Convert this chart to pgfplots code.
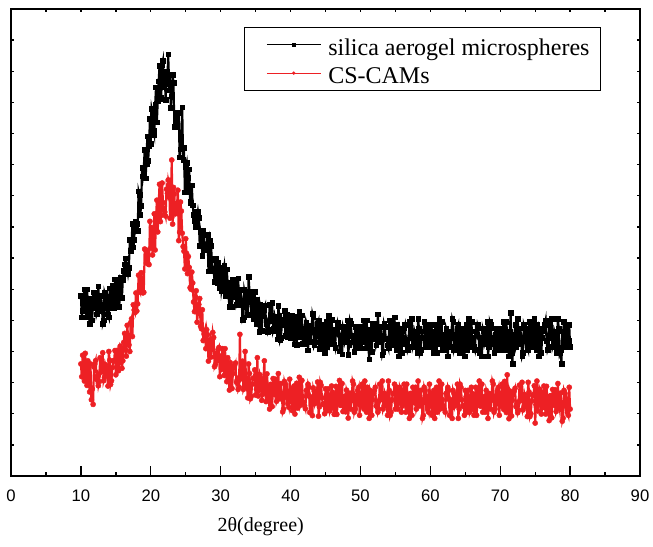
\documentclass[border=0pt]{standalone}
\usepackage{fontspec}
\setmainfont{Liberation Serif}
\setsansfont{Liberation Sans}
\usepackage{pgfplots}
\pgfplotsset{compat=1.18}
\definecolor{myred}{RGB}{237,32,36}
\begin{document}
\begin{tikzpicture}
\begin{axis}[
  scale only axis, width=471.75pt, height=350.25pt,
  xmin=0, xmax=90, ymin=0, ymax=15,
  xtick={0,10,...,90}, minor x tick num=1,
  xtick pos=left, ytick=\empty,
  tick align=inside,
  major tick length=7.5pt, minor tick length=3pt,
  axis line style={line width=1.1pt},
  every tick/.style={black, line width=1pt},
  /pgf/number format/assume math mode=true,
  xticklabel style={font=\fontsize{12.5}{14}\selectfont\sffamily, anchor=base, yshift=-19.3pt},
  xlabel={2θ(degree)},
  xlabel style={font=\fontsize{15}{18}\selectfont, at={(axis description cs:0.397,0)}, anchor=base, yshift=-41.8pt},
  legend style={at={(axis description cs:0.938,0.9615)}, anchor=north east, draw=black, line width=0.75pt,
    font=\fontsize{18}{21}\selectfont, inner xsep=8.25pt, inner ysep=4pt, row sep=3.2pt,
    nodes={inner sep=0pt, text height=17pt, text depth=1pt},
    /tikz/every odd column/.append style={column sep=5.25pt}},
  legend cell align=left,
  legend image code/.code={\path[draw=none,fill=none] (0pt,0pt) -- (8.25pt,0pt);
    \draw[mark repeat=2,mark phase=2,#1,line width=0.7pt,mark size=1.1pt] plot coordinates {(8.25pt,0pt) (28.5pt,0pt) (48.75pt,0pt)};},
]
\addplot[black, line width=1.6pt, mark=square*, mark size=1.75pt, mark options={line width=0.3pt}] coordinates {
(10,5.8)(10.125,5.1)(10.25,5.3)(10.375,5.8)(10.5,6.0)(10.625,5.4)(10.75,5.1)(10.875,6.0)
(11,5.6)(11.125,5.2)(11.25,4.9)(11.375,5.7)(11.5,5.7)(11.625,5.0)(11.75,5.9)(11.875,5.6)
(12,5.4)(12.125,5.9)(12.25,5.2)(12.375,5.3)(12.5,6.1)(12.625,5.5)(12.75,5.3)(12.875,5.8)
(13,5.5)(13.125,4.9)(13.25,5.0)(13.375,5.9)(13.5,5.8)(13.625,5.4)(13.75,5.6)(13.875,5.2)
(14,5.1)(14.125,6.03)(14.25,5.76)(14.375,5.39)(14.5,6.13)(14.625,5.76)(14.75,5.39)(14.875,6.32)
(15,5.65)(15.125,5.42)(15.25,6.29)(15.375,5.76)(15.5,5.43)(15.625,6.39)(15.75,6.36)(15.875,5.73)
(16,6.3)(16.125,6.6)(16.25,6.8)(16.375,7.0)(16.5,6.5)(16.625,6.7)(16.75,6.5)(16.875,6.7)
(17,7.6)(17.125,7.24)(17.25,7.48)(17.375,8.11)(17.5,7.35)(17.625,7.59)(17.75,8.13)(17.875,8.16)
(18,8.1)(18.125,7.88)(18.25,9.15)(18.375,9.03)(18.5,8.4)(18.625,8.68)(18.75,9.9)(18.875,9.63)
(19,9.88)(19.125,10.49)(19.25,9.56)(19.375,10.02)(19.5,10.91)(19.625,10.12)(19.75,10.59)(19.875,11.47)
(20,10.68)(20.125,11.8)(20.25,11.66)(20.375,11.09)(20.5,10.95)(20.625,11.93)(20.75,12.49)(20.875,11.36)
(21,12.06)(21.125,12.68)(21.25,13.17)(21.375,12.11)(21.5,12.17)(21.625,13.21)(21.75,13.35)(21.875,12.5)
(22,12.84)(22.125,12.08)(22.25,13.0)(22.375,12.79)(22.5,13.55)(22.625,12.39)(22.75,12.61)(22.875,11.84)
(23,12.2)(23.125,12.9)(23.25,12.63)(23.375,11.23)(23.5,11.23)(23.625,11.65)(23.75,11.24)(23.875,11.66)
(24,11.66)(24.125,10.24)(24.25,10.5)(24.375,10.89)(24.5,11.85)(24.625,10.15)(24.75,10.55)(24.875,9.12)
(25,9.94)(25.125,10.06)(25.25,9.13)(25.375,9.59)(25.5,9.85)(25.625,8.81)(25.75,8.78)(25.875,9.34)
(26,8.7)(26.125,8.4)(26.25,8.2)(26.375,8.0)(26.5,8.5)(26.625,8.3)(26.75,8.5)(26.875,8.3)
(27,7.4)(27.125,7.83)(27.25,7.65)(27.375,7.08)(27.5,7.9)(27.625,7.73)(27.75,7.25)(27.875,7.28)
(28,7.4)(28.125,7.74)(28.25,6.58)(28.375,6.81)(28.5,7.55)(28.625,7.39)(28.75,6.93)(28.875,6.66)
(29,6.6)(29.125,6.25)(29.25,7.0)(29.375,6.75)(29.5,6.2)(29.625,6.85)(29.75,6.6)(29.875,6.05)
(30,6.7)(30.125,5.96)(30.25,6.13)(30.375,6.59)(30.5,6.75)(30.625,6.11)(30.75,5.78)(30.875,6.64)
(31,6.2)(31.125,5.77)(31.25,5.44)(31.375,6.21)(31.5,6.18)(31.625,5.44)(31.75,6.31)(31.875,5.98)
(32,5.75)(32.125,6.23)(32.25,5.5)(32.375,5.58)(32.5,6.35)(32.625,5.73)(32.75,5.5)(32.875,5.98)
(33,5.65)(33.125,5.03)(33.25,5.1)(33.375,5.98)(33.5,5.85)(33.625,5.43)(33.75,5.6)(33.875,5.18)
(34,6.4)(34.125,5.93)(34.25,5.61)(34.375,5.19)(34.5,5.88)(34.625,5.46)(34.75,5.04)(34.875,5.92)
(35,5.2)(35.125,4.88)(35.25,5.66)(35.375,5.04)(35.5,4.63)(35.625,5.51)(35.75,5.39)(35.875,4.67)
(36,5.15)(36.125,5.33)(36.25,5.41)(36.375,5.49)(36.5,4.88)(36.625,4.96)(36.75,4.64)(36.875,4.72)
(37,5.5)(37.125,4.99)(37.25,5.08)(37.375,5.56)(37.5,4.65)(37.625,4.74)(37.75,5.13)(37.875,5.01)
(38,4.8)(38.125,4.39)(38.25,5.48)(38.375,5.17)(38.5,4.36)(38.625,4.45)(38.75,4.84)(38.875,5.03)
(39,5.02)(39.125,5.31)(39.25,4.5)(39.375,4.69)(39.5,5.19)(39.625,4.48)(39.75,4.67)(39.875,5.16)
(40,4.45)(40.125,5.14)(40.25,4.94)(40.375,4.43)(40.5,4.23)(40.625,4.82)(40.75,5.11)(40.875,4.21)
(41,4.6)(41.125,4.99)(41.25,5.29)(41.375,4.48)(41.5,4.48)(41.625,5.17)(41.75,4.26)(41.875,4.56)
(42,4.75)(42.125,4.25)(42.25,4.94)(42.375,4.84)(42.5,4.04)(42.625,4.63)(42.75,4.83)(42.875,4.32)
(43,4.62)(43.125,5.22)(43.25,5.11)(43.375,4.21)(43.5,4.3)(43.625,4.7)(43.75,4.49)(43.875,4.89)
(44,4.98)(44.125,4.08)(44.25,4.37)(44.375,4.77)(44.5,4.07)(44.625,4.46)(44.75,4.86)(44.875,3.95)
(45,4.65)(45.125,4.95)(45.25,4.15)(45.375,4.74)(45.5,5.14)(45.625,4.24)(45.75,4.34)(45.875,5.03)
(46,4.53)(46.125,4.33)(46.25,4.23)(46.375,4.12)(46.5,4.72)(46.625,4.62)(46.75,4.92)(46.875,4.81)
(47,4.01)(47.125,4.51)(47.25,4.41)(47.375,3.91)(47.5,4.8)(47.625,4.7)(47.75,4.3)(47.875,4.4)
(48,4.6)(48.125,5.0)(48.25,3.9)(48.375,4.2)(48.5,5.0)(48.625,4.9)(48.75,4.5)(48.875,4.3)
(49,4.3)(49.125,4.0)(49.25,4.8)(49.375,4.6)(49.5,4.1)(49.625,4.8)(49.75,4.6)(49.875,4.1)
(50,4.8)(50.125,4.1)(50.25,4.3)(50.375,4.8)(50.5,5.0)(50.625,4.4)(50.75,4.1)(50.875,5.0)
(51,4.6)(51.125,4.2)(51.25,3.75)(51.375,4.7)(51.5,4.7)(51.625,4.0)(51.75,4.9)(51.875,4.6)
(52,4.4)(52.125,4.9)(52.25,4.2)(52.375,4.3)(52.5,5.2)(52.625,4.5)(52.75,4.3)(52.875,4.8)
(53,4.5)(53.125,3.9)(53.25,4.0)(53.375,4.9)(53.5,4.8)(53.625,4.4)(53.75,4.4)(53.875,4.2)
(54,4.1)(54.125,5.0)(54.25,4.7)(54.375,4.3)(54.5,5.0)(54.625,4.6)(54.75,4.2)(54.875,5.1)
(55,4.35)(55.125,4.05)(55.25,4.85)(55.375,4.25)(55.5,3.85)(55.625,4.75)(55.75,4.65)(55.875,3.95)
(56,4.45)(56.125,4.65)(56.25,4.75)(56.375,4.85)(56.5,4.25)(56.625,4.35)(56.75,4.05)(56.875,4.15)
(57,4.95)(57.125,4.45)(57.25,4.55)(57.375,5.05)(57.5,4.15)(57.625,4.25)(57.75,4.65)(57.875,4.55)
(58,4.35)(58.125,3.95)(58.25,5.05)(58.375,4.75)(58.5,3.95)(58.625,4.05)(58.75,4.45)(58.875,4.65)
(59,4.65)(59.125,4.95)(59.25,4.15)(59.375,4.35)(59.5,4.85)(59.625,4.15)(59.75,4.35)(59.875,4.85)
(60,4.15)(60.125,4.85)(60.25,4.65)(60.375,4.15)(60.5,3.95)(60.625,4.55)(60.75,4.85)(60.875,3.95)
(61,4.35)(61.125,4.75)(61.25,5.05)(61.375,4.25)(61.5,4.25)(61.625,4.95)(61.75,4.05)(61.875,4.35)
(62,4.55)(62.125,4.05)(62.25,4.75)(62.375,4.65)(62.5,3.85)(62.625,4.45)(62.75,4.65)(62.875,4.15)
(63,4.45)(63.125,5.05)(63.25,4.95)(63.375,4.05)(63.5,4.15)(63.625,4.55)(63.75,4.35)(63.875,4.75)
(64,4.85)(64.125,3.95)(64.25,4.25)(64.375,4.65)(64.5,3.95)(64.625,4.35)(64.75,4.75)(64.875,3.85)
(65,4.55)(65.125,4.85)(65.25,4.05)(65.375,4.65)(65.5,5.05)(65.625,4.15)(65.75,4.25)(65.875,4.95)
(66,4.45)(66.125,4.25)(66.25,4.15)(66.375,4.05)(66.5,4.65)(66.625,4.55)(66.75,4.85)(66.875,4.75)
(67,3.95)(67.125,4.45)(67.25,4.35)(67.375,3.85)(67.5,4.75)(67.625,4.65)(67.75,4.25)(67.875,4.35)
(68,4.55)(68.125,4.95)(68.25,3.85)(68.375,4.15)(68.5,4.95)(68.625,4.85)(68.75,4.45)(68.875,4.25)
(69,4.25)(69.125,3.95)(69.25,4.75)(69.375,4.55)(69.5,4.05)(69.625,4.75)(69.75,4.55)(69.875,4.05)
(70,4.75)(70.125,4.05)(70.25,4.25)(70.375,4.75)(70.5,4.95)(70.625,4.35)(70.75,4.05)(70.875,4.95)
(71,4.55)(71.125,4.15)(71.25,3.85)(71.375,4.65)(71.5,5.25)(71.625,3.95)(71.75,3.6)(71.875,4.55)
(72,4.35)(72.125,4.85)(72.25,4.15)(72.375,4.25)(72.5,5.05)(72.625,4.45)(72.75,4.25)(72.875,4.75)
(73,4.45)(73.125,3.85)(73.25,3.95)(73.375,4.85)(73.5,4.75)(73.625,4.35)(73.75,4.55)(73.875,4.15)
(74,4.05)(74.125,4.95)(74.25,4.65)(74.375,4.25)(74.5,4.95)(74.625,4.55)(74.75,4.15)(74.875,5.05)
(75,4.35)(75.125,4.05)(75.25,4.85)(75.375,4.25)(75.5,3.85)(75.625,4.75)(75.75,4.65)(75.875,3.95)
(76,4.45)(76.125,4.65)(76.25,4.75)(76.375,4.85)(76.5,5.0)(76.625,4.35)(76.75,4.05)(76.875,4.15)
(77,4.95)(77.125,4.45)(77.25,4.55)(77.375,5.05)(77.5,4.15)(77.625,4.25)(77.75,4.65)(77.875,4.55)
(78,4.35)(78.125,3.95)(78.25,5.05)(78.375,4.75)(78.5,3.95)(78.625,4.05)(78.75,3.6)(78.875,4.65)
(79,4.65)(79.125,4.95)(79.25,4.15)(79.375,4.35)(79.5,4.85)(79.625,4.15)(79.75,4.35)(79.875,4.85)(80,4.15)
};
\addlegendentry{silica aerogel microspheres}
\addplot[myred, line width=1.6pt, mark=*, mark size=1.95pt, mark options={line width=0.3pt}] coordinates {
(10,3.6)(10.125,3.19)(10.25,3.88)(10.375,3.46)(10.5,3.05)(10.625,3.94)(10.75,3.23)(10.875,2.91)
(11,3.7)(11.125,3.1)(11.25,2.7)(11.375,3.6)(11.5,2.45)(11.625,2.8)(11.75,2.3)(11.875,3.5)
(12,3.6)(12.125,3.71)(12.25,3.1)(12.375,3.22)(12.5,2.9)(12.625,3.03)(12.75,3.8)(12.875,3.34)
(13,3.45)(13.125,3.96)(13.25,3.06)(13.375,3.17)(13.5,3.58)(13.625,3.48)(13.75,3.29)(13.875,2.89)
(14,4.0)(14.125,3.72)(14.25,2.94)(14.375,3.06)(14.5,3.48)(14.625,3.69)(14.75,3.71)(14.875,4.03)
(15,3.25)(15.125,3.49)(15.25,4.04)(15.375,3.38)(15.5,3.63)(15.625,4.17)(15.75,4.11)(15.875,3.46)
(16,3.7)(16.125,4.29)(16.25,4.58)(16.375,4.06)(16.5,3.85)(16.625,4.84)(16.75,4.53)(16.875,4.21)
(17,4.0)(17.125,4.93)(17.25,5.05)(17.375,4.48)(17.5,5.5)(17.625,5.33)(17.75,5.25)(17.875,5.88)
(18,5.3)(18.125,5.53)(18.25,6.45)(18.375,5.98)(18.5,5.9)(18.625,6.53)(18.75,6.35)(18.875,5.88)
(19,5.9)(19.125,7.29)(19.25,7.27)(19.375,6.84)(19.5,7.24)(19.625,6.81)(19.75,6.79)(19.875,8.18)
(20,7.32)(20.125,7.98)(20.25,7.1)(20.375,7.76)(20.5,8.42)(20.625,7.26)(20.75,8.34)(20.875,8.86)
(21,7.84)(21.125,8.74)(21.25,9.37)(21.375,8.17)(21.5,8.37)(21.625,9.41)(21.75,8.78)(21.875,8.56)
(22,8.48)(22.125,8.35)(22.25,9.21)(22.375,9.08)(22.5,9.51)(22.625,9.38)(22.75,8.28)(22.875,8.99)
(23,10.15)(23.125,8.09)(23.25,9.27)(23.375,9.06)(23.5,8.42)(23.625,8.49)(23.75,8.69)(23.875,9.18)
(24,7.56)(24.125,7.83)(24.25,8.8)(24.375,8.51)(24.5,7.8)(24.625,7.37)(24.75,7.22)(24.875,6.65)
(25,7.62)(25.125,7.15)(25.25,6.5)(25.375,7.05)(25.5,6.7)(25.625,6.05)(25.75,6.0)(25.875,6.55)
(26,6.2)(26.125,5.59)(26.25,5.28)(26.375,5.76)(26.5,5.95)(26.625,4.94)(26.75,5.23)(26.875,5.51)
(27,5.7)(27.125,4.81)(27.25,4.73)(27.375,5.34)(27.5,4.35)(27.625,4.56)(27.75,4.68)(27.875,4.09)
(28,4.7)(28.125,4.54)(28.25,3.69)(28.375,4.23)(28.5,4.38)(28.625,3.82)(28.75,4.06)(28.875,4.61)
(29,4.45)(29.125,3.51)(29.25,3.58)(29.375,3.94)(29.5,3.7)(29.625,4.06)(29.75,4.13)(29.875,3.19)
(30,3.85)(30.125,3.42)(30.25,4.09)(30.375,3.66)(30.5,3.23)(30.625,4.09)(30.75,3.36)(30.875,3.03)
(31,3.8)(31.125,3.18)(31.25,2.76)(31.375,3.64)(31.5,3.53)(31.625,2.81)(31.75,3.29)(31.875,3.47)
(32,3.55)(32.125,3.63)(32.25,3.01)(32.375,3.09)(32.5,2.78)(32.625,2.86)(32.75,4.55)(32.875,3.12)
(33,3.2)(33.125,3.69)(33.25,2.78)(33.375,2.86)(33.5,4.0)(33.625,3.14)(33.75,2.93)(33.875,2.51)
(34,3.6)(34.125,3.29)(34.25,2.48)(34.375,2.56)(34.5,2.95)(34.625,3.14)(34.75,3.13)(34.875,3.41)
(35,2.6)(35.125,2.79)(35.25,3.8)(35.375,2.57)(35.5,2.76)(35.625,3.25)(35.75,3.14)(35.875,2.43)
(36,2.62)(36.125,3.11)(36.25,3.7)(36.375,2.69)(36.5,2.39)(36.625,3.28)(36.75,2.87)(36.875,2.46)
(37,2.15)(37.125,2.94)(37.25,2.94)(37.375,2.23)(37.5,3.13)(37.625,2.82)(37.75,2.61)(37.875,3.11)
(38,2.4)(38.125,2.49)(38.25,3.29)(38.375,2.68)(38.5,2.48)(38.625,2.97)(38.75,2.66)(38.875,2.06)
(39,2.15)(39.125,3.04)(39.25,2.94)(39.375,2.53)(39.5,2.73)(39.625,2.32)(39.75,2.21)(39.875,3.11)
(40,2.4)(40.125,2.8)(40.25,2.1)(40.375,2.49)(40.5,2.89)(40.625,1.99)(40.75,2.69)(40.875,2.98)
(41,2.18)(41.125,2.78)(41.25,3.17)(41.375,2.27)(41.5,2.37)(41.625,3.07)(41.75,2.56)(41.875,2.36)
(42,2.26)(42.125,2.16)(42.25,2.75)(42.375,2.65)(42.5,2.95)(42.625,2.85)(42.75,2.04)(42.875,2.54)
(43,2.44)(43.125,1.94)(43.25,2.83)(43.375,2.73)(43.5,2.33)(43.625,2.43)(43.75,2.62)(43.875,3.02)
(44,1.92)(44.125,2.22)(44.25,3.01)(44.375,2.91)(44.5,2.51)(44.625,2.31)(44.75,2.3)(44.875,2.0)
(45,2.8)(45.125,2.6)(45.25,2.1)(45.375,2.8)(45.5,2.59)(45.625,2.09)(45.75,2.19)(45.875,2.89)
(46,2.69)(46.125,2.19)(46.25,1.98)(46.375,2.58)(46.5,2.88)(46.625,1.98)(46.75,2.38)(46.875,2.77)
(47,3.07)(47.125,2.27)(47.25,2.27)(47.375,2.97)(47.5,2.07)(47.625,2.36)(47.75,2.56)(47.875,2.06)
(48,2.76)(48.125,2.66)(48.25,1.86)(48.375,2.46)(48.5,2.66)(48.625,2.15)(48.75,2.45)(48.875,3.05)
(49,2.95)(49.125,2.05)(49.25,2.15)(49.375,2.55)(49.5,2.35)(49.625,2.75)(49.75,2.85)(49.875,1.95)
(50,2.65)(50.125,2.25)(50.25,2.95)(50.375,2.55)(50.5,2.15)(50.625,3.05)(50.75,2.35)(50.875,2.05)
(51,2.85)(51.125,2.25)(51.25,1.85)(51.375,2.75)(51.5,2.65)(51.625,1.95)(51.75,2.45)(51.875,2.65)
(52,2.75)(52.125,2.85)(52.25,2.25)(52.375,2.35)(52.5,2.05)(52.625,2.15)(52.75,2.95)(52.875,2.45)
(53,2.55)(53.125,3.05)(53.25,2.15)(53.375,2.25)(53.5,2.65)(53.625,2.55)(53.75,2.35)(53.875,1.95)
(54,3.05)(54.125,2.75)(54.25,1.95)(54.375,2.05)(54.5,2.45)(54.625,2.65)(54.75,2.65)(54.875,2.95)
(55,2.15)(55.125,2.35)(55.25,2.85)(55.375,2.15)(55.5,2.35)(55.625,2.85)(55.75,2.75)(55.875,2.05)
(56,2.25)(56.125,2.75)(56.25,2.95)(56.375,2.35)(56.5,2.05)(56.625,2.95)(56.75,2.55)(56.875,2.15)
(57,1.85)(57.125,2.65)(57.25,2.65)(57.375,1.95)(57.5,2.85)(57.625,2.55)(57.75,2.35)(57.875,2.85)
(58,2.15)(58.125,2.25)(58.25,3.05)(58.375,2.45)(58.5,2.25)(58.625,2.75)(58.75,2.45)(58.875,1.85)
(59,1.95)(59.125,2.85)(59.25,2.75)(59.375,2.35)(59.5,2.55)(59.625,2.15)(59.75,2.05)(59.875,2.95)
(60,2.25)(60.125,2.65)(60.25,1.95)(60.375,2.35)(60.5,2.75)(60.625,1.85)(60.75,2.55)(60.875,2.85)
(61,2.05)(61.125,2.65)(61.25,3.05)(61.375,2.15)(61.5,2.25)(61.625,2.95)(61.75,2.45)(61.875,2.25)
(62,2.15)(62.125,2.05)(62.25,2.65)(62.375,2.55)(62.5,2.85)(62.625,2.75)(62.75,1.95)(62.875,2.45)
(63,2.35)(63.125,1.85)(63.25,2.75)(63.375,2.65)(63.5,2.25)(63.625,2.35)(63.75,2.55)(63.875,2.95)
(64,1.85)(64.125,2.15)(64.25,2.95)(64.375,2.85)(64.5,2.45)(64.625,2.25)(64.75,2.25)(64.875,1.95)
(65,2.75)(65.125,2.55)(65.25,2.05)(65.375,2.75)(65.5,2.55)(65.625,2.05)(65.75,2.15)(65.875,2.85)
(66,2.65)(66.125,2.15)(66.25,1.95)(66.375,2.55)(66.5,2.85)(66.625,1.95)(66.75,2.35)(66.875,2.75)
(67,3.05)(67.125,2.25)(67.25,2.25)(67.375,2.95)(67.5,2.05)(67.625,2.35)(67.75,2.55)(67.875,2.05)
(68,2.75)(68.125,2.65)(68.25,1.85)(68.375,2.45)(68.5,2.65)(68.625,2.15)(68.75,2.45)(68.875,3.05)
(69,2.95)(69.125,2.05)(69.25,2.15)(69.375,2.55)(69.5,2.35)(69.625,2.75)(69.75,2.85)(69.875,1.95)
(70,2.65)(70.125,2.24)(70.25,2.95)(70.375,2.54)(70.5,2.14)(70.625,3.04)(70.75,2.34)(70.875,2.04)
(71,3.25)(71.125,2.23)(71.25,1.84)(71.375,2.73)(71.5,2.64)(71.625,1.93)(71.75,2.43)(71.875,2.63)
(72,2.73)(72.125,2.82)(72.25,2.23)(72.375,2.32)(72.5,2.03)(72.625,2.12)(72.75,2.92)(72.875,2.42)
(73,2.52)(73.125,3.01)(73.25,2.12)(73.375,2.21)(73.5,2.62)(73.625,2.51)(73.75,2.31)(73.875,1.91)
(74,3.01)(74.125,2.7)(74.25,1.91)(74.375,2.0)(74.5,2.41)(74.625,2.6)(74.75,2.6)(74.875,2.9)
(75,1.7)(75.125,2.29)(75.25,3.05)(75.375,2.09)(75.5,2.3)(75.625,2.79)(75.75,2.69)(75.875,1.99)
(76,2.19)(76.125,2.68)(76.25,2.89)(76.375,2.28)(76.5,1.99)(76.625,2.88)(76.75,2.48)(76.875,2.08)
(77,1.78)(77.125,2.57)(77.25,2.58)(77.375,1.87)(77.5,2.78)(77.625,2.47)(77.75,2.27)(77.875,2.77)
(78,2.07)(78.125,2.16)(78.25,2.97)(78.375,2.36)(78.5,2.17)(78.625,2.66)(78.75,2.36)(78.875,1.76)
(79,1.86)(79.125,2.75)(79.25,2.66)(79.375,2.25)(79.5,2.46)(79.625,2.05)(79.75,1.95)(79.875,2.85)(80,2.15)
};
\addlegendentry{CS-CAMs}
\end{axis}
\begin{axis}[
  scale only axis, width=471.75pt, height=350.25pt,
  xmin=0, xmax=90, ymin=0, ymax=15,
  xtick={0,5,...,90}, xticklabels={}, xtick pos=right,
  ytick={0,1,...,15}, yticklabels={}, ytick pos=both,
  tick align=inside, major tick length=2.5pt,
  axis line style={line width=1.1pt},
  every tick/.style={black, line width=1pt},
]
\end{axis}
\pgfresetboundingbox
\path ([shift={(-8.25pt,-52.5pt)}]current axis.south west) rectangle ([shift={(9.75pt,6.75pt)}]current axis.north east);
\end{tikzpicture}
\end{document}
